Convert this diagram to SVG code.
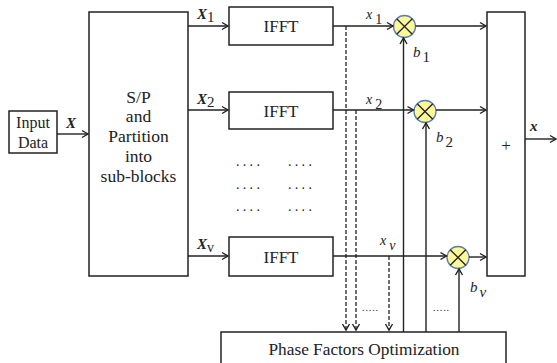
<svg xmlns="http://www.w3.org/2000/svg" width="557" height="363" viewBox="0 0 557 363">
<style>
.b{fill:#fff;stroke:#222;stroke-width:1.5}
.l{fill:none;stroke:#222;stroke-width:1.4}
.d{fill:none;stroke:#222;stroke-width:1.3;stroke-dasharray:4 2}
.t{font-family:"Liberation Serif","Times New Roman",serif;fill:#222}
.m{fill:#fbf79a;stroke:#5b80b0;stroke-width:1.3}
.x{stroke:#222;stroke-width:1.3}
</style>
<defs>
<marker id="a" markerWidth="10" markerHeight="10" refX="8" refY="5" orient="auto" markerUnits="userSpaceOnUse">
<path d="M2,1.5 L8,5 L2,8.5" fill="none" stroke="#222" stroke-width="1.4"/>
</marker>
</defs>
<rect width="557" height="363" fill="#fff"/>
<g id="input">
<rect class="b" x="9" y="111" width="48" height="42"/>
<text class="t" x="33" y="128" font-size="16" text-anchor="middle">Input</text>
<text class="t" x="33" y="148" font-size="16" text-anchor="middle">Data</text>
</g>
<g id="sp">
<rect class="b" x="89" y="12" width="99" height="264"/>
<text class="t" font-size="17.5" text-anchor="middle"><tspan x="138.5" y="103">S/P</tspan><tspan x="138.5" y="122">and</tspan><tspan x="138.5" y="142">Partition</tspan><tspan x="138.5" y="162">into</tspan><tspan x="138.5" y="182">sub-blocks</tspan></text>
</g>
<g id="ifft1"><rect class="b" x="229" y="7" width="104" height="38"/><text class="t" x="281" y="32" font-size="17" text-anchor="middle">IFFT</text></g>
<g id="ifft2"><rect class="b" x="229" y="92" width="104" height="37"/><text class="t" x="281" y="117" font-size="17" text-anchor="middle">IFFT</text></g>
<g id="ifftv"><rect class="b" x="229" y="237" width="104" height="39"/><text class="t" x="281" y="263" font-size="17" text-anchor="middle">IFFT</text></g>
<g id="dots" class="t" font-size="14">
<text x="236" y="166" letter-spacing="3.3">....</text><text x="288" y="166" letter-spacing="3.3">....</text>
<text x="236" y="189" letter-spacing="3.3">....</text><text x="288" y="189" letter-spacing="3.3">....</text>
<text x="236" y="211" letter-spacing="3.3">....</text><text x="288" y="211" letter-spacing="3.3">....</text>
<text x="362" y="311" font-size="10" letter-spacing="0.9">.....</text>
<text x="433" y="311" font-size="10" letter-spacing="0.9">.....</text>
</g>
<g id="mul1"><circle class="m" cx="404.5" cy="26.5" r="11"/><path class="x" d="M396.7,18.7 L412.3,34.3 M412.3,18.7 L396.7,34.3"/></g>
<g id="mul2"><circle class="m" cx="425" cy="111.5" r="11"/><path class="x" d="M417.2,103.7 L432.8,119.3 M432.8,103.7 L417.2,119.3"/></g>
<g id="mulv"><circle class="m" cx="458" cy="257.5" r="11"/><path class="x" d="M450.2,249.7 L465.8,265.3 M465.8,249.7 L450.2,265.3"/></g>
<g id="sum">
<rect class="b" x="487" y="12" width="38" height="264"/>
<text class="t" x="506" y="151" font-size="17" text-anchor="middle">+</text>
</g>
<g id="pfo">
<rect class="b" x="221" y="332" width="285" height="40"/>
<text class="t" x="364" y="355" font-size="17.3" text-anchor="middle">Phase Factors Optimization</text>
</g>
<g id="connectors">
<path class="l" d="M57,134 H88" marker-end="url(#a)"/>
<path class="l" d="M188,26 H228" marker-end="url(#a)"/>
<path class="l" d="M188,110 H228" marker-end="url(#a)"/>
<path class="l" d="M188,256 H228" marker-end="url(#a)"/>
<path class="l" d="M333,26 H393" marker-end="url(#a)"/>
<path class="l" d="M333,110 H413.5" marker-end="url(#a)"/>
<path class="l" d="M333,256 H446.5" marker-end="url(#a)"/>
<path class="l" d="M415.5,26 H486" marker-end="url(#a)"/>
<path class="l" d="M436,110 H486" marker-end="url(#a)"/>
<path class="l" d="M469,257 H486" marker-end="url(#a)"/>
<path class="l" d="M525,139 H556" marker-end="url(#a)"/>
<path class="l" d="M403.5,332 V38" marker-end="url(#a)"/>
<path class="l" d="M426,332 V123" marker-end="url(#a)"/>
<path class="l" d="M459,332 V269" marker-end="url(#a)"/>
<path class="d" d="M346,26 V330" marker-end="url(#a)"/>
<path class="d" d="M356,110 V330" marker-end="url(#a)"/>
<path class="d" d="M389,256 V330" marker-end="url(#a)"/>
</g>
<g id="labels" class="t">
<text x="66" y="128" font-size="15" font-weight="bold" font-style="italic">X</text>
<text x="197" y="19" font-size="15" font-weight="bold" font-style="italic">X<tspan font-style="normal" font-weight="normal" dy="3">1</tspan></text>
<text x="197" y="104" font-size="15" font-weight="bold" font-style="italic">X<tspan font-style="normal" font-weight="normal" dy="3">2</tspan></text>
<text x="197" y="249" font-size="15" font-weight="bold" font-style="italic">X<tspan font-style="normal" font-weight="normal" font-size="14" dy="3">v</tspan></text>
<text x="366" y="19" font-size="14" font-style="italic">x<tspan font-style="normal" dx="3" dy="5">1</tspan></text>
<text x="366" y="104" font-size="14" font-style="italic">x<tspan font-style="normal" dx="3" dy="5">2</tspan></text>
<text x="380" y="245" font-size="14" font-style="italic">x<tspan dx="3" dy="5">v</tspan></text>
<text x="413" y="57" font-size="15" font-style="italic">b<tspan font-style="normal" dx="2" dy="5">1</tspan></text>
<text x="436" y="142" font-size="15" font-style="italic">b<tspan font-style="normal" dx="2" dy="5">2</tspan></text>
<text x="470" y="292" font-size="15" font-style="italic">b<tspan dx="2" dy="5">v</tspan></text>
<text x="530" y="131" font-size="15" font-weight="bold" font-style="italic">x</text>
</g>
</svg>
